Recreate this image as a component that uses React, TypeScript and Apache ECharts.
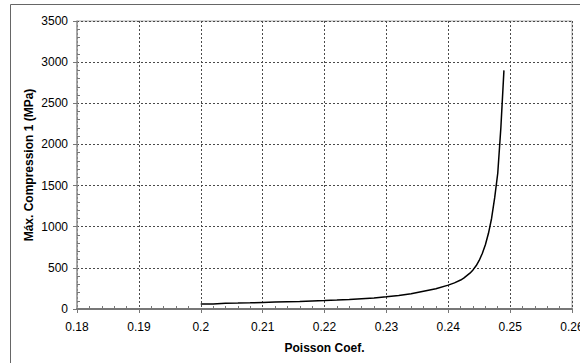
import React, { useEffect, useRef } from "react";
import * as echarts from "echarts";

const poisson = [
  0.2, 0.202, 0.204, 0.206, 0.208, 0.21, 0.212, 0.214, 0.216, 0.218, 0.22, 0.222, 0.224,
  0.226, 0.228, 0.23, 0.232, 0.234, 0.236, 0.238, 0.24, 0.241, 0.242, 0.2425, 0.243, 0.2435,
  0.244, 0.2445, 0.245, 0.2455, 0.246, 0.2465, 0.247, 0.2475, 0.248, 0.2485, 0.249,
];
const compression = [
  60, 62, 70, 72, 75, 80, 84, 88, 92, 97, 102, 108, 115, 125, 135, 148, 163, 185, 215, 245,
  290, 318, 352, 375, 405, 435, 475, 525, 590, 675, 780, 920, 1100, 1350, 1650, 2200, 2900,
];
const xMin = 0.18;
const xMax = 0.26;
const xStep = 0.01;
const yMin = 0;
const yMax = 3500;
const yStep = 500;

const FONT = "'Liberation Sans', Arial, sans-serif";

export default function App() {
  const ref = useRef<HTMLDivElement>(null);
  useEffect(() => {
    document.body.style.margin = "0";
    if (!ref.current) return;
    const chart = echarts.init(ref.current, null, { renderer: "svg" });
    const data = poisson.map((p, i) => [p, compression[i]]);
    const grid = "#4a4a4a";
    chart.setOption({
      animation: false,
      backgroundColor: "#fff",
      textStyle: { fontFamily: FONT },
      grid: {
        left: 77,
        top: 21,
        right: 8,
        bottom: 54,
        show: true,
        borderColor: "#aaa",
        borderWidth: 1,
        containLabel: false,
        outerBoundsMode: "none",
      },
      graphic: [
        {
          type: "rect",
          shape: { x: 10.5, y: 4.5, width: 700, height: 500 },
          style: { fill: "none", stroke: "#666", lineWidth: 1 },
          z: -1,
        },
      ],
      xAxis: [
        {
          type: "value",
          min: xMin,
          max: xMax,
          interval: xStep,
          name: "Poisson Coef.",
          nameLocation: "middle",
          nameGap: 33,
          nameMoveOverlap: false,
          nameTextStyle: { fontFamily: FONT, fontWeight: "bold", fontSize: 12, color: "#000" },
          axisLine: { show: true, lineStyle: { color: "#777", width: 2 } },
          axisTick: { show: true, inside: false, length: 4, lineStyle: { color: "#777", width: 1 } },
          axisLabel: {
            fontFamily: FONT,
            fontSize: 12,
            color: "#000",
            margin: 12,
            hideOverlap: false,
            formatter: (v: number) => String(Math.round(v * 100) / 100),
          },
          splitLine: { show: true, lineStyle: { color: grid, type: [2, 2], width: 1 } },
        },
        {
          type: "value",
          min: xMin,
          max: xMax,
          interval: xStep,
          position: "bottom",
          axisLine: { show: false },
          axisTick: { show: false, inside: true },
          axisLabel: { show: false },
          splitLine: { show: false },
          minorTick: { show: true, splitNumber: 5, length: 3, lineStyle: { color: "#777", width: 1 } },
        },
      ],
      yAxis: [
        {
          type: "value",
          min: yMin,
          max: yMax,
          interval: yStep,
          name: "Máx. Compression 1 (MPa)",
          nameLocation: "middle",
          nameGap: 42,
          nameMoveOverlap: false,
          nameTextStyle: { fontFamily: FONT, fontWeight: "bold", fontSize: 12, color: "#000" },
          axisLine: { show: true, lineStyle: { color: "#999", width: 1.5 } },
          axisTick: { show: true, inside: false, length: 4, lineStyle: { color: "#777", width: 1 } },
          axisLabel: {
            fontFamily: FONT,
            fontSize: 12,
            color: "#000",
            margin: 9,
            formatter: (v: number) => String(v),
          },
          splitLine: { show: true, lineStyle: { color: grid, type: [2, 2], width: 1 } },
        },
        {
          type: "value",
          min: yMin,
          max: yMax,
          interval: yStep,
          position: "left",
          axisLine: { show: false },
          axisTick: { show: false, inside: true },
          axisLabel: { show: false },
          splitLine: { show: false },
          minorTick: { show: true, splitNumber: 5, length: 3, lineStyle: { color: "#777", width: 1 } },
        },
      ],
      series: [
        {
          type: "line",
          data,
          showSymbol: false,
          symbol: "none",
          lineStyle: { color: "#000", width: 1.5 },
          xAxisIndex: 0,
          yAxisIndex: 0,
        },
      ],
    });
    return () => chart.dispose();
  }, []);
  return <div ref={ref} style={{ width: 580, height: 363 }} />;
}
